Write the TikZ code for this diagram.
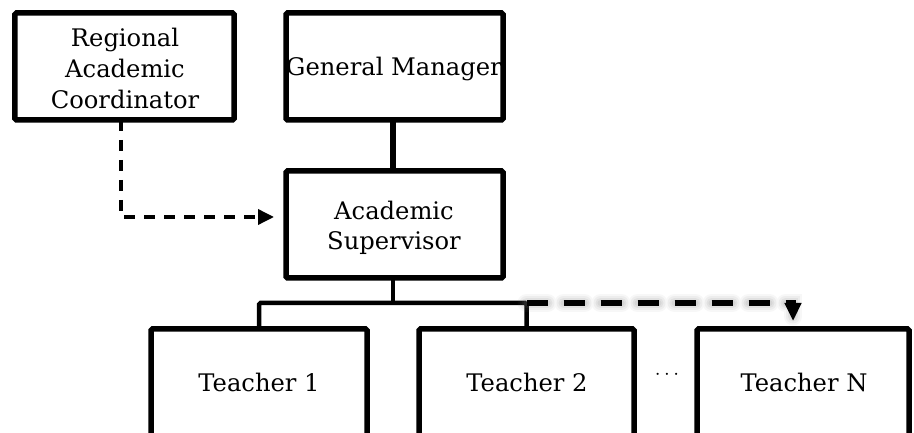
\documentclass[tikz,border=0pt]{standalone}
\usepackage{fontspec}
\setmainfont{DejaVu Serif}
\usetikzlibrary{arrows.meta}
\begin{document}
\begin{tikzpicture}[x=1bp,y=-1bp,
  box/.style={draw, line width=5.5bp, rounded corners=1.5bp, inner sep=0pt, outer sep=0pt},
  lbl/.style={font=\fontsize{24.2bp}{30bp}\selectfont, anchor=base, inner sep=0pt},
  solidline/.style={line width=5.5bp},
  branch/.style={line width=4.5bp, rounded corners=1.5bp},
  dashlink/.style={line width=3.5bp, dash pattern=on 11bp off 9bp, -{Triangle[length=16bp,width=15bp]}},
  thickdash/.style={line width=6bp, dash pattern=on 21bp off 16bp, -{Triangle[length=18bp,width=16bp]}},
  shadowline/.style={line cap=round, draw=gray}
]
\useasboundingbox (0,0) rectangle (914,433);
\fill[white] (0,0) rectangle (914,433);
\clip (0,0) rectangle (914,433);

% boxes
\node[box, minimum width=219bp, minimum height=107bp] (rac) at (124.5,66.5) {};
\node[box, minimum width=217bp, minimum height=107bp] (gm) at (394.5,66.5) {};
\node[box, minimum width=217bp, minimum height=107bp] (as) at (394.5,224.5) {};
\node[box, minimum width=216bp, minimum height=121bp] (t1) at (259,389.5) {};
\node[box, minimum width=215bp, minimum height=121bp] (t2) at (526.5,389.5) {};
\node[box, minimum width=212bp, minimum height=121bp] (tn) at (803,389.5) {};

% texts
\node[lbl] (racA) at (125,46.7) {Regional};
\node[lbl] (racB) at (125,77.7) {Academic};
\node[lbl] (racC) at (125,108.3) {Coordinator};
\node[lbl] (gmT) at (394,76) {General Manager};
\node[lbl] (asA) at (394,219.3) {Academic};
\node[lbl] (asB) at (394,249.3) {Supervisor};
\node[lbl] (t1T) at (259,391) {Teacher 1};
\node[lbl] (t2T) at (527,391) {Teacher 2};
\node[lbl] (tnT) at (804,391) {Teacher N};
\node[anchor=base, inner sep=0pt, font=\fontsize{21}{24}\selectfont] (dots) at (667,380) {$\cdots$};

% helper coordinates
\coordinate (racx) at (121,0);
\coordinate (asin) at (274,217);
\coordinate (bus) at (393,303);
\coordinate (tnarr) at (793,321);
\coordinate (gmx) at (393,0);

% solid connectors
\draw[solidline] (gm.south -| gmx) -- (as.north -| gmx);
\draw[branch] (as.south -| gmx) -- (bus);
\draw[branch] (t1.north) -- (t1.north |- bus) -- (t2.north |- bus) -- (t2.north);

% dashed connector Regional -> Academic Supervisor
\draw[dashlink] (rac.south -| racx) |- (asin);

% shadow of the thick dashed arrow
\begin{scope}[shift={(5,4)}]
  \foreach \w/\o in {18/0.06, 14/0.08, 10/0.1, 6/0.12} {
    \draw[shadowline, line width=\w bp, opacity=\o, dash pattern=on 21bp off 16bp]
      (t2.north |- bus) -- (tnarr |- bus) -- ([yshift=-6bp]tnarr);
  }
\end{scope}
% thick dashed arrow Teacher 2 -> Teacher N
\draw[thickdash] (t2.north |- bus) -| (tnarr);
\end{tikzpicture}
\end{document}
